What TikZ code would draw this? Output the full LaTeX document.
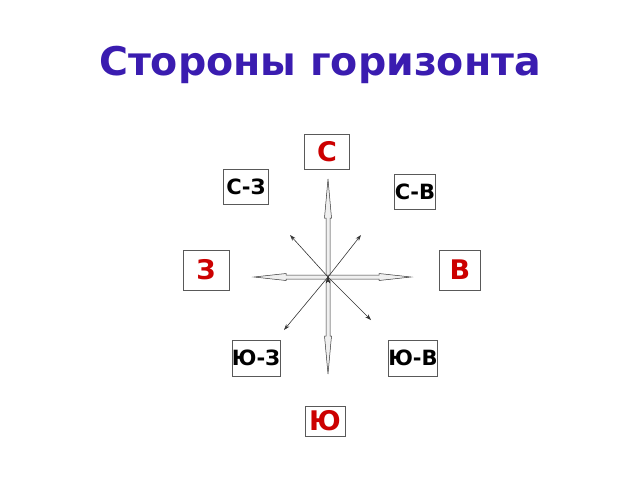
\documentclass[tikz,border=0pt]{standalone}
\usepackage{fontspec}
\setmainfont{DejaVu Sans}
\usetikzlibrary{arrows.meta}
\definecolor{titleblue}{HTML}{3A1CB0}
\definecolor{sidered}{HTML}{CC0000}

\begin{document}
\begin{tikzpicture}[x=1pt,y=-1pt]
        \useasboundingbox (0,0) rectangle (640,480);
        \node[anchor=base,text=titleblue,font=\bfseries\fontsize{39.5}{40}\selectfont] (title) at (320,75) {Стороны горизонта};

        \begin{scope}[every node/.style={draw=black!65,fill=white,inner sep=0pt,font=\bfseries\fontsize{21}{21}\selectfont}]
            \node[text=sidered,font=\bfseries\fontsize{27}{27}\selectfont,minimum width=45pt,minimum height=35pt] (n) at (327,152) {С};
            \node[minimum width=45pt,minimum height=35pt] (nw) at (246,187) {С-З};
            \node[minimum width=41pt,minimum height=35pt] (ne) at (415,192) {С-В};

            \node[text=sidered,font=\bfseries\fontsize{27}{27}\selectfont,minimum width=46pt,minimum height=40pt] (w) at (206,270) {З};
            \node[text=sidered,font=\bfseries\fontsize{27}{27}\selectfont,minimum width=41pt,minimum height=40pt] (e) at (460,270) {В};

            \node[minimum width=45pt,minimum height=36pt] (sw) at (256,358) {Ю-З};
            \node[minimum width=46pt,minimum height=36pt] (se) at (413,358) {Ю-В};
            \node[text=sidered,font=\bfseries\fontsize{27}{27}\selectfont,minimum width=40pt,minimum height=30pt] (s) at (325,421) {Ю};
        \end{scope}

        \coordinate (o) at (328,277);
        \coordinate (tnw) at (290,235);
        \coordinate (tne) at (361,235);
        \coordinate (tse) at (371,320);
        \coordinate (tsw) at (284,330);

        % big arrows
        \foreach \ang/\len/\head in {-90/97/38, 90/98/39, 180/74/32, 0/83/32}{
            \filldraw[draw=black!80,fill=black!6,line width=0.5pt,shift={(o)},rotate=\ang]
                (0,-2) -- (\len-\head,-2) -- (\len-\head,-3.5) -- (\len,0)
                -- (\len-\head,3.5) -- (\len-\head,2) -- (0,2) -- cycle;
        }

        % small arrows
        \begin{scope}[every path/.style={draw=black!80,line width=0.6pt,-{Stealth[length=6pt,width=4pt]}}]
            \path (o) edge (tnw);
            \path (o) edge (tne);
            \path (o) edge (tse);
            \path (o) edge (tsw);
        \end{scope}
\end{tikzpicture}
\end{document}
